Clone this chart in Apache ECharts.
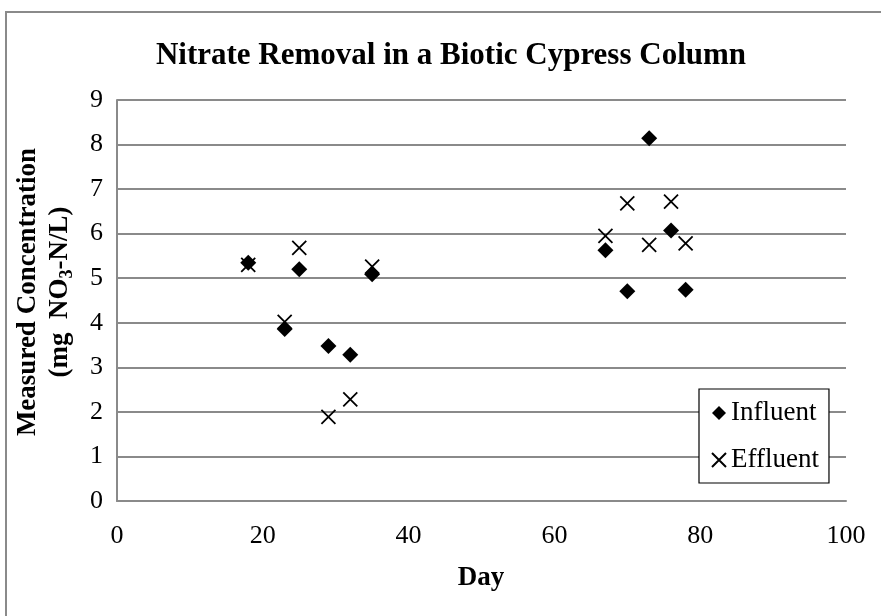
<!DOCTYPE html>
<html>
<head>
<meta charset="utf-8">
<script src="https://cdn.jsdelivr.net/npm/echarts@6/dist/echarts.min.js"></script>
<style>
html,body{margin:0;padding:0;background:#fff;}
#c{width:881px;height:616px;}
</style>
</head>
<body>
<div id="c"></div>
<script>
const chartTitle = 'Nitrate Removal in a Biotic Cypress Column';
const xAxisTitle = 'Day';
const influentDays = [18, 23, 25, 29, 32, 35, 67, 70, 73, 76, 78];
const influentValues = [5.35, 3.86, 5.20, 3.48, 3.28, 5.09, 5.63, 4.71, 8.14, 6.07, 4.74];
const effluentDays = [18, 23, 25, 29, 32, 35, 67, 70, 73, 76, 78];
const effluentValues = [5.30, 4.02, 5.68, 1.89, 2.28, 5.26, 5.95, 6.68, 5.75, 6.72, 5.78];
const xTicks = [0, 20, 40, 60, 80, 100];
const yTicks = [0, 1, 2, 3, 4, 5, 6, 7, 8, 9];

const FONT = '"Liberation Serif", "DejaVu Serif", serif';
const GRID = '#8a8a8a';

const pair = (xs, ys) => xs.map((x, i) => [x, ys[i]]);
const xMark = 'path://M0,0L12,12M12,0L0,12';

const chart = echarts.init(document.getElementById('c'), null, {renderer: 'canvas'});
chart.setOption({
  animation: false,
  backgroundColor: '#fff',
  grid: {left: 117, top: 100, right: 35, bottom: 115, containLabel: false},
  xAxis: {
    type: 'value', min: xTicks[0], max: xTicks[xTicks.length - 1], interval: 20,
    axisLine: {show: true, lineStyle: {color: GRID, width: 2}},
    axisTick: {show: false},
    splitLine: {show: false},
    axisLabel: {margin: 22, color: '#000', fontFamily: FONT, fontSize: 26}
  },
  yAxis: {
    type: 'value', min: yTicks[0], max: yTicks[yTicks.length - 1], interval: 1,
    axisLine: {show: true, lineStyle: {color: GRID, width: 2}},
    axisTick: {show: false},
    splitLine: {show: true, lineStyle: {color: GRID, width: 2}},
    axisLabel: {margin: 14, color: '#000', fontFamily: FONT, fontSize: 26}
  },
  legend: {
    orient: 'vertical',
    left: 699, top: 389,
    width: 135,
    padding: [9, 10, 8, 12],
    itemGap: 17,
    itemWidth: 14, itemHeight: 14,
    borderColor: '#000', borderWidth: 1.2,
    backgroundColor: '#fff',
    textStyle: {color: '#000', fontFamily: FONT, fontSize: 27, lineHeight: 30, padding: [0, 0, 0, 0]},
    data: [
      {name: 'Influent', icon: 'diamond'},
      {name: 'Effluent', icon: xMark}
    ]
  },
  graphic: [
    {type: 'rect', silent: true, z: -1,
     shape: {x: 6, y: 12, width: 1000, height: 800},
     style: {fill: 'none', stroke: GRID, lineWidth: 2}},
    {type: 'text', x: 451, y: 56,
     style: {text: chartTitle, fontFamily: FONT, fontWeight: 'bold', fontSize: 31,
             fill: '#000', align: 'center', verticalAlign: 'middle'}},
    {type: 'text', x: 481, y: 578,
     style: {text: xAxisTitle, fontFamily: FONT, fontWeight: 'bold', fontSize: 27,
             fill: '#000', align: 'center', verticalAlign: 'middle'}},
    {type: 'text', x: 28, y: 292, rotation: Math.PI / 2,
     style: {text: 'Measured Concentration', fontFamily: FONT, fontWeight: 'bold', fontSize: 27,
             fill: '#000', align: 'center', verticalAlign: 'middle'}},
    {type: 'text', x: 60, y: 292, rotation: Math.PI / 2,
     style: {text: '{b|(mg  NO}{s|3}{b|-N/L)}',
             fill: '#000', align: 'center', verticalAlign: 'middle',
             rich: {
               b: {fontFamily: FONT, fontWeight: 'bold', fontSize: 27, lineHeight: 30, fill: '#000'},
               s: {fontFamily: FONT, fontWeight: 'bold', fontSize: 18, lineHeight: 30, padding: [14, 0, 0, 0], fill: '#000'}
             }}}
  ],
  series: [
    {
      name: 'Influent', type: 'scatter',
      data: pair(influentDays, influentValues),
      symbol: 'diamond', symbolSize: 16,
      itemStyle: {color: '#000', opacity: 1},
      emphasis: {disabled: true}, z: 3
    },
    {
      name: 'Effluent', type: 'scatter',
      data: pair(effluentDays, effluentValues),
      symbol: xMark, symbolSize: 14,
      itemStyle: {color: 'rgba(0,0,0,0)', borderColor: '#000', borderWidth: 1.8, opacity: 1},
      emphasis: {disabled: true}, z: 4
    }
  ]
});
</script>
</body>
</html>
